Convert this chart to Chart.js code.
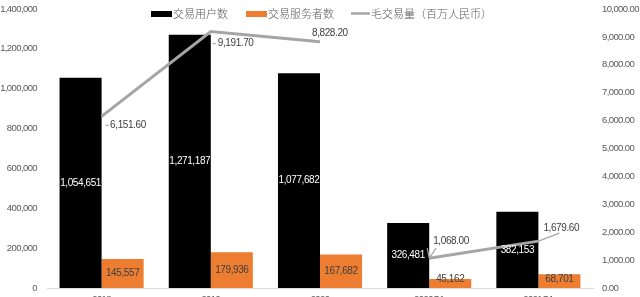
<!DOCTYPE html>
<html><head><meta charset="utf-8">
<script src="https://cdn.jsdelivr.net/npm/chart.js@4/dist/chart.umd.min.js"></script>
<style>html,body{margin:0;padding:0;background:#fff}canvas{display:block}</style>
</head><body>
<canvas id="c" width="640" height="297"></canvas>
<script>
// ---- data ----
const categories = ['2018', '2019', '2020', '2020Q1', '2021Q1'];
const tradingUsers = [1054651, 1271187, 1077682, 326481, 382153];
const serviceProviders = [145557, 179936, 167682, 45162, 68701];
const gmv = [6151.60, 9191.70, 8828.20, 1068.00, 1679.60];
const seriesNames = ['交易用户数', '交易服务者数', '毛交易量（百万人民币）'];
const leftAxisMax = 1400000, leftAxisStep = 200000;
const rightAxisMax = 10000, rightAxisStep = 1000;
const lineBreakAfter = 2; // no connecting segment between annual and quarterly points

const NUM_FONT = '"Liberation Sans", Arial, sans-serif';
const fmtInt = v => Number(v).toLocaleString('en-US');
const fmt2 = v => Number(v).toLocaleString('en-US', {minimumFractionDigits: 2, maximumFractionDigits: 2});

const spacingPlugin = {
  id: 'spacing',
  beforeDraw(chart) { chart.ctx.letterSpacing = '-0.6px'; }
};

const labelPlugin = {
  id: 'labels',
  afterDatasetsDraw(chart) {
    const ctx = chart.ctx;
    ctx.save();
    ctx.letterSpacing = '-0.4px';
    ctx.font = '10px ' + NUM_FONT;
    ctx.textAlign = 'center';
    ctx.textBaseline = 'middle';
    [0, 1].forEach(di => {
      const meta = chart.getDatasetMeta(di);
      meta.data.forEach((el, i) => {
        const v = chart.data.datasets[di].data[i];
        let y = (el.y + el.base) / 2;
        y = Math.min(y, el.base - 9);
        ctx.fillStyle = di === 0 ? '#ffffff' : '#404040';
        ctx.fillText(fmtInt(v), el.x, y);
      });
    });
    // line labels with leader lines
    const lm = chart.getDatasetMeta(2);
    const offs = [
      {dx: 8.5, dy: 9, lead: [[[4, 9], [7, 9]]]},
      {dx: 7, dy: 12, lead: [[[2, 12], [5, 12]]]},
      {dx: -8, dy: -8, lead: null},
      {dx: 4, dy: -17, lead: [[[0, 0], [7, -10]], [[-2, -10], [0, 0]]]},
      {dx: 5, dy: -13, lead: [[[0, 0], [21, -8]]]}
    ];
    ctx.textAlign = 'left';
    lm.data.forEach((pt, i) => {
      const o = offs[i];
      if (o.lead) {
        ctx.strokeStyle = '#a5a5a5';
        ctx.lineWidth = 1.2;
        o.lead.forEach(seg => {
          ctx.beginPath();
          ctx.moveTo(pt.x + seg[0][0], pt.y + seg[0][1]);
          ctx.lineTo(pt.x + seg[1][0], pt.y + seg[1][1]);
          ctx.stroke();
        });
      }
      ctx.fillStyle = '#404040';
      ctx.fillText(fmt2(gmv[i]), pt.x + o.dx, pt.y + o.dy);
    });
    ctx.restore();
  },
  afterDraw(chart) {
    const ctx = chart.ctx;
    const ds = chart.data.datasets;
    ctx.save();
    ctx.letterSpacing = '0px';
    ctx.font = '300 11px "Noto Sans CJK SC", sans-serif';
    ctx.textBaseline = 'middle';
    ctx.textAlign = 'left';
    const y = 13.5;
    ctx.fillStyle = ds[0].backgroundColor;
    ctx.fillRect(151, 11, 21, 6);
    ctx.fillStyle = '#595959';
    ctx.fillText(ds[0].label, 173, y);
    ctx.fillStyle = ds[1].backgroundColor;
    ctx.fillRect(246, 11, 21, 6);
    ctx.fillStyle = '#595959';
    ctx.fillText(ds[1].label, 268, y);
    ctx.strokeStyle = ds[2].borderColor;
    ctx.lineWidth = 2.5;
    ctx.beginPath(); ctx.moveTo(351, y); ctx.lineTo(370, y); ctx.stroke();
    ctx.fillText(ds[2].label, 371, y);
    ctx.restore();
  }
};

new Chart(document.getElementById('c'), {
  type: 'bar',
  data: {
    labels: categories,
    datasets: [
      {label: seriesNames[0], data: tradingUsers, backgroundColor: '#000000', yAxisID: 'y', order: 2,
       categoryPercentage: 0.77, barPercentage: 1.0},
      {label: seriesNames[1], data: serviceProviders, backgroundColor: '#ED7D31', yAxisID: 'y', order: 2,
       categoryPercentage: 0.77, barPercentage: 1.0},
      {type: 'line', label: seriesNames[2], data: gmv, borderColor: '#A5A5A5', backgroundColor: '#A5A5A5',
       borderWidth: 3, pointRadius: 0, tension: 0, yAxisID: 'y1', order: 1,
       segment: {borderColor: c => c.p0DataIndex === lineBreakAfter ? 'rgba(0,0,0,0)' : undefined}}
    ]
  },
  options: {
    responsive: false,
    animation: false,
    layout: {padding: {top: 9, bottom: 0, left: 0, right: 0}},
    plugins: {legend: {display: false}, tooltip: {enabled: false}},
    scales: {
      x: {
        grid: {display: false, drawTicks: false},
        border: {display: true, color: '#D9D9D9', width: 1},
        ticks: {color: '#595959', font: {family: NUM_FONT, size: 9.5}, padding: 6, maxRotation: 0},
        afterFit(s) { s.height = 9; s.paddingLeft = 0; s.paddingRight = 0; }
      },
      y: {
        position: 'left', min: 0, max: leftAxisMax,
        grid: {display: false, drawTicks: false},
        border: {display: false},
        ticks: {stepSize: leftAxisStep, color: '#595959', font: {family: NUM_FONT, size: 9.5}, padding: 10,
                callback: v => fmtInt(v)},
        afterFit(s) { s.width = 47; s.paddingTop = 0; s.paddingBottom = 0; }
      },
      y1: {
        position: 'right', min: 0, max: rightAxisMax,
        grid: {display: false, drawTicks: false},
        border: {display: false},
        ticks: {stepSize: rightAxisStep, color: '#595959', font: {family: NUM_FONT, size: 9.5}, padding: 9,
                callback: v => fmt2(v)},
        afterFit(s) { s.width = 47; s.paddingTop = 0; s.paddingBottom = 0; }
      }
    }
  },
  plugins: [spacingPlugin, labelPlugin]
});
</script>
</body></html>
